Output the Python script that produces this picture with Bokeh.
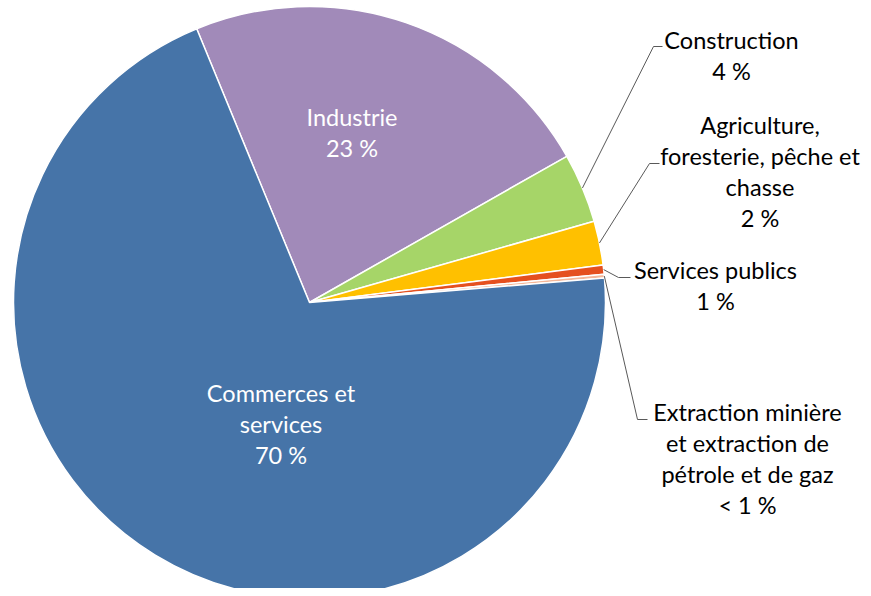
import math
from bokeh.plotting import figure
from bokeh.models import Range1d, ColumnDataSource
from bokeh.core.properties import value
from bokeh.embed import file_html
from bokeh.resources import INLINE

# ---- data (clockwise order starting with Industrie) ----
categories = ["Industrie", "Construction",
              "Agriculture, foresterie, pêche et chasse",
              "Services publics",
              "Extraction minière et extraction de pétrole et de gaz",
              "Commerces et services"]
shares = [23.0, 3.8, 2.4, 0.5, 0.2, 70.1]
pct_labels = ["23 %", "4 %", "2 %", "1 %", "< 1 %", "70 %"]
name_lines = [["Industrie"], ["Construction"],
              ["Agriculture,", "foresterie, pêche et", "chasse"],
              ["Services publics"],
              ["Extraction minière", "et extraction de", "pétrole et de gaz"],
              ["Commerces et", "services"]]
colors = ["#A18AB9", "#A6D568", "#FFC000", "#E5501F", "#F4B698", "#4674A8"]

# ---- layout ----
W, H = 863, 588
FONT = "Lato"
FS = "23.5px"
LH = 31
TXT_DY = -9
cx, cy = 309, 596 - 302
R = 296
start_cw = 337.6  # degrees clockwise from 12 o'clock where first slice starts

# label layout: (x center, first baseline in px from top, inside?)
label_pos = [(351.5, 125, True), (731, 48, False), (759.5, 133, False),
             (715, 278, False), (747, 420, False), (280.5, 401, True)]
# leader elbow points (px) for outside labels
elbows = {1: ((653, 46), (662, 46)), 2: ((649, 163), (659, 163)),
          3: ((618, 277), (630, 277)), 4: ((637, 419), (647, 419))}

p = figure(width=W, height=H, output_backend="svg", toolbar_location=None,
           x_range=Range1d(0, W), y_range=Range1d(596 - H, 596),
           min_border=0)
p.axis.visible = False
p.grid.visible = False
p.outline_line_color = None
p.background_fill_color = "white"
p.border_fill_color = "white"

total = sum(shares)
cum = 0.0
starts, ends, mids = [], [], []
for s in shares:
    a0 = start_cw + cum / total * 360
    a1 = start_cw + (cum + s) / total * 360
    cum += s
    starts.append(math.radians(90 - a0))
    ends.append(math.radians(90 - a1))
    mids.append((a0 + a1) / 2)

src = ColumnDataSource(dict(start=starts, end=ends, color=colors))
p.wedge(x=cx, y=cy, radius=R, start_angle="start", end_angle="end",
        direction="clock", fill_color="color", line_color="white",
        line_width=1.5, source=src)

# leader lines
for i, (e1, e2) in elbows.items():
    th = math.radians(mids[i])
    x0 = cx + R * math.sin(th)
    y0 = cy + R * math.cos(th)
    xs = [x0, e1[0], e2[0]]
    ys = [y0, 596 - e1[1], 596 - e2[1]]
    p.line(xs, ys, line_color="#595959", line_width=1)

# labels
for i, lines in enumerate(name_lines):
    x, b, inside = label_pos[i]
    all_lines = lines + [pct_labels[i]]
    col = "white" if inside else "black"
    xs = [x] * len(all_lines)
    ys = [596 - (b + TXT_DY + k * LH) for k in range(len(all_lines))]
    p.text(x=xs, y=ys, text=all_lines, text_align="center",
           text_baseline="alphabetic", text_color=col,
           text_font=value(FONT), text_font_size=FS)

open("out.html", "w").write(file_html(p, INLINE))
